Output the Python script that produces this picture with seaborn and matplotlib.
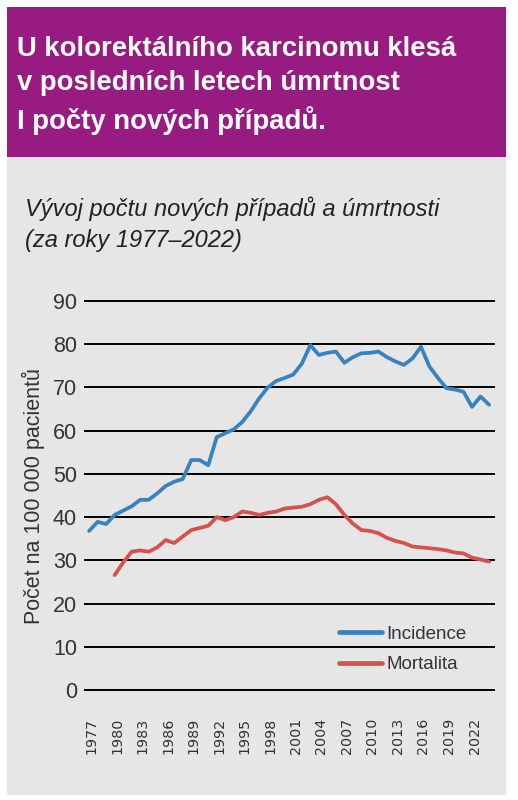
import numpy as np
import pandas as pd
import matplotlib
matplotlib.use("Agg")
import matplotlib.pyplot as plt
import matplotlib.transforms as mtransforms
from matplotlib.patches import Rectangle
from matplotlib.lines import Line2D
import seaborn as sns

years = list(range(1977, 2025))
incidence = [36.8, 38.9, 38.4, 40.5, 41.5, 42.5, 44.0, 44.0, 45.5, 47.2,
             48.2, 48.8, 53.2, 53.2, 52.0, 58.5, 59.4, 60.3, 62.0, 64.5,
             67.5, 70.0, 71.5, 72.2, 73.0, 75.5, 79.8, 77.5, 78.0, 78.3,
             75.7, 77.0, 77.9, 78.0, 78.3, 77.0, 76.0, 75.2, 76.7, 79.4,
             74.8, 72.2, 69.8, 69.5, 69.0, 65.5, 67.9, 66.0]
mort_years = list(range(1980, 2025))
mortality = [26.6, 29.5, 32.0, 32.3, 32.0, 33.0, 34.7, 34.0, 35.5, 37.0,
             37.5, 38.0, 40.0, 39.3, 40.0, 41.3, 41.0, 40.5, 41.0, 41.3,
             42.0, 42.2, 42.4, 43.0, 44.0, 44.6, 43.0, 40.5, 38.5, 37.0,
             36.8, 36.3, 35.2, 34.5, 34.0, 33.2, 33.0, 32.8, 32.6, 32.3,
             31.8, 31.6, 30.6, 30.2, 29.7]
series_names = ["Incidence", "Mortalita"]
yticks = [0, 10, 20, 30, 40, 50, 60, 70, 80, 90]
xtick_years = list(range(1977, 2023, 3))

title = "U kolorektálního karcinomu klesá\nv posledních letech úmrtnost\nI počty nových případů."
subtitle = "Vývoj počtu nových případů a úmrtnosti\n(za roky 1977–2022)"
ylabel = "Počet na 100 000 pacientů"

df = pd.concat([
    pd.DataFrame({"rok": years, "hodnota": incidence, "ukazatel": series_names[0]}),
    pd.DataFrame({"rok": mort_years, "hodnota": mortality, "ukazatel": series_names[1]}),
])

sns.set_theme(style="white")
fam = ["Liberation Sans Narrow", "Liberation Sans", "DejaVu Sans"]
plt.rcParams["font.family"] = fam

W, H = 518, 800
fig = plt.figure(figsize=(W / 100, H / 100), dpi=100)
fig.patch.set_facecolor("white")

def fx(px):
    return px / W

def fy(py):
    return 1 - py / H

# background axes holding the panels
bg = fig.add_axes([0, 0, 1, 1], zorder=-5)
bg.set_xlim(0, W)
bg.set_ylim(H, 0)
bg.axis("off")
bg.add_patch(Rectangle((7, 157), 499, 638, facecolor="#e6e6e6", edgecolor="none"))
bg.add_patch(Rectangle((7, 7), 499, 150, facecolor="#981b82", edgecolor="none"))

bg.text(17, 36, title, color="white", fontsize=19.8, fontweight="bold",
        va="top", ha="left", linespacing=1.42)
bg.text(25, 196, subtitle, color="#222222", fontsize=17, style="italic",
        va="top", ha="left", linespacing=1.45)

ax_l, ax_r, ax_t, ax_b = 84, 495, 299, 692
ax = fig.add_axes([fx(ax_l), fy(ax_b), (ax_r - ax_l) / W, (ax_b - ax_t) / H], zorder=2)
ax.set_facecolor("none")

palette = {"Incidence": "#3883bf", "Mortalita": "#d6514c"}
sns.lineplot(data=df, x="rok", y="hodnota", hue="ukazatel", palette=palette,
             linewidth=2.7, ax=ax, legend=False, zorder=3)

ax.set_ylim(-0.45, 90.45)
ax.set_xlim(1976.4, 2024.7)
ax.set_yticks(yticks)
ax.set_yticklabels([str(v) for v in yticks], fontsize=15.5, color="#333333")
ax.set_xticks(xtick_years)
ax.set_xticklabels([str(v) for v in xtick_years], rotation=90, fontsize=10.3,
                   color="#333333", family=["DejaVu Sans"])
ax.tick_params(axis="y", length=0, pad=5)
ax.tick_params(axis="x", length=0, pad=18.5)
shift = mtransforms.ScaledTranslation(2.5 / 100, 0, fig.dpi_scale_trans)
for lab in ax.get_xticklabels():
    lab.set_transform(lab.get_transform() + shift)
ax.grid(False)
for v in yticks:
    ax.axhline(v, color="black", linewidth=1.4, zorder=1)
for s in ax.spines.values():
    s.set_visible(False)
ax.set_xlabel("")
ax.set_ylabel(ylabel, fontsize=15.5, color="#333333", labelpad=6)

handles = [Line2D([0], [0], color=palette[n], linewidth=3.4) for n in series_names]
leg = fig.legend(handles, series_names, loc="upper left",
                 bbox_to_anchor=(fx(331), fy(618)), frameon=False,
                 fontsize=13.5, handlelength=2.3, handletextpad=0.25,
                 labelspacing=0.72, borderaxespad=0)
for t in leg.get_texts():
    t.set_color("#333333")

fig.savefig("out.png", dpi=100, facecolor="white")
